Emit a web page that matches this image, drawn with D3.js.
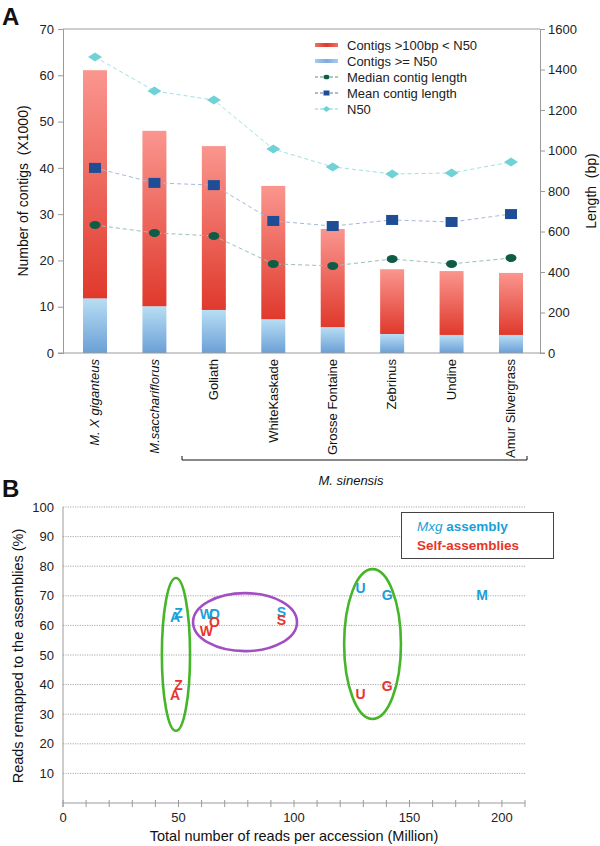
<!DOCTYPE html>
<html><head><meta charset="utf-8">
<script src="https://cdn.jsdelivr.net/npm/d3@7"></script>
<style>
body{margin:0;background:#fff;}
svg{display:block;font-family:"Liberation Sans",Arial,sans-serif;}
</style></head>
<body>
<script>
// ---------- Panel A data ----------
const categories = ["M. X giganteus","M.sacchariflorus","Goliath","WhiteKaskade","Grosse Fontaine","Zebrinus","Undine","Amur Silvergrass"];
const italicCategories = ["M. X giganteus","M.sacchariflorus"];
const contigsGeN50 = [11.8, 10.1, 9.3, 7.3, 5.6, 4.1, 3.9, 3.9];          // x1000
const contigsLtN50 = [49.3, 37.9, 35.4, 28.8, 21.2, 14.0, 13.8, 13.4];   // x1000
const medianLength = [632, 593, 578, 440, 430, 464, 440, 469];
const meanLength   = [914, 840, 829, 652, 627, 657, 647, 686];
const n50Length    = [1462, 1294, 1249, 1007, 919, 884, 889, 943];
const leftTicks  = [0,10,20,30,40,50,60,70];
const rightTicks = [0,200,400,600,800,1000,1200,1400,1600];
const legendA = ["Contigs >100bp < N50","Contigs >= N50","Median contig length","Mean contig length","N50"];

// ---------- Panel B data ----------
const accessions   = ["A","Z","W","O","S","U","G","M"];
const readsMillion = [48.5, 50.0, 62.1, 65.6, 94.6, 128.8, 140.3, 181.4];
const mxgRemapped  = [62.8, 64.2, 63.9, 63.9, 64.5, 72.6, 70.3, 70.3];
const selfRemapped = [36.5, 39.9, 58.1, 61.1, 61.8, 36.8, 39.5, null];
const bYTicks = [10,20,30,40,50,60,70,80,90,100];
const bXLabels = [0,50,100,150,200];
const bXMinor = d3.range(0,201,10);
// annotation ellipses (data units: cx reads, cy %, rx, ry)
const groupEllipses = [
  {cx:48.9, cy:50.2, rx:6.1, ry:25.8, color:"#45b52a"},
  {cx:78.8, cy:61.1, rx:22.5, ry:9.8, color:"#a24fc2"},
  {cx:134.0, cy:53.7, rx:12.3, ry:25.3, color:"#45b52a"}
];

const W = 600, H = 846;
const svg = d3.select("body").append("svg").attr("width",W).attr("height",H);
svg.append("rect").attr("width",W).attr("height",H).attr("fill","#fff");

const defs = svg.append("defs");
function vgrad(id, c0, c1){
  const g = defs.append("linearGradient").attr("id",id).attr("x1",0).attr("y1",0).attr("x2",0).attr("y2",1);
  g.append("stop").attr("offset","0%").attr("stop-color",c0);
  g.append("stop").attr("offset","100%").attr("stop-color",c1);
}
vgrad("redG","#fa968f","#e0392c");
vgrad("blueG","#b8def4","#6b9fd6");
function hgrad(id, c0, c1){
  const g = defs.append("linearGradient").attr("id",id).attr("x1",0).attr("y1",0).attr("x2",1).attr("y2",0);
  g.append("stop").attr("offset","0%").attr("stop-color",c0);
  g.append("stop").attr("offset","50%").attr("stop-color",c1);
  g.append("stop").attr("offset","100%").attr("stop-color",c0);
}
hgrad("redH","#f07068","#e0392c");
hgrad("blueH","#a9cdee","#7eaadc");

// ================= Panel A =================
const axisGray = "#9a9a9a";
const xA = d3.scalePoint().domain(categories).range([95,511]);
const yL = d3.scaleLinear().domain([0,70]).range([353,29]);
const yR = d3.scaleLinear().domain([0,1600]).range([353,29]);
const barW = 24;
const gA = svg.append("g");

// frame
gA.append("line").attr("x1",63).attr("x2",540).attr("y1",yL(70)).attr("y2",yL(70)).attr("stroke",axisGray);
// bars
categories.forEach((c,i)=>{
  const x = xA(c)-barW/2;
  gA.append("rect").attr("x",x).attr("width",barW)
    .attr("y",yL(contigsGeN50[i])).attr("height",yL(0)-yL(contigsGeN50[i])).attr("fill","url(#blueG)");
  const top = contigsGeN50[i]+contigsLtN50[i];
  gA.append("rect").attr("x",x).attr("width",barW)
    .attr("y",yL(top)).attr("height",yL(contigsGeN50[i])-yL(top)).attr("fill","url(#redG)");
});

// axes
const axL = gA.append("g").attr("transform","translate(63,0)")
  .call(d3.axisLeft(yL).tickValues(leftTicks).tickSize(5).tickPadding(4).tickFormat(d3.format("d")));
const axR = gA.append("g").attr("transform","translate(540,0)")
  .call(d3.axisRight(yR).tickValues(rightTicks).tickSize(5).tickPadding(3).tickFormat(d3.format("d")));
[axL,axR].forEach(a=>{
  a.select(".domain").attr("stroke",axisGray);
  a.selectAll(".tick line").attr("stroke",axisGray);
  a.selectAll(".tick text").attr("font-size",13).attr("fill","#222").attr("font-family","Liberation Sans, Arial, sans-serif");
});
gA.append("line").attr("x1",58).attr("x2",545).attr("y1",yL(0)).attr("y2",yL(0)).attr("stroke",axisGray);

// lines
function series(vals, lineColor){
  const line = d3.line().x((d,i)=>xA(categories[i])).y(d=>yR(d));
  gA.append("path").attr("d",line(vals)).attr("fill","none").attr("stroke",lineColor)
    .attr("stroke-width",1).attr("stroke-dasharray","4,3");
}
series(n50Length,"#9fe0e6");
series(meanLength,"#a6b8da");
series(medianLength,"#9bbfb6");
// markers
categories.forEach((c,i)=>{
  const x = xA(c);
  gA.append("path").attr("transform",`translate(${x},${yR(n50Length[i])})`)
    .attr("d","M-7,0L0,-4.5L7,0L0,4.5Z").attr("fill","#6fd2d6");
  gA.append("rect").attr("x",x-6).attr("y",yR(meanLength[i])-5).attr("width",12).attr("height",10).attr("fill","#1f4d95");
  gA.append("ellipse").attr("cx",x).attr("cy",yR(medianLength[i])).attr("rx",5.5).attr("ry",4).attr("fill","#0e5b46");
});

// x labels
categories.forEach(c=>{
  gA.append("text").attr("transform",`translate(${xA(c)},359) rotate(-90)`)
    .attr("text-anchor","end").attr("dy","0.33em").attr("font-size",13).attr("fill","#111")
    .attr("font-style", italicCategories.includes(c)?"italic":"normal").text(c);
});
// bracket
gA.append("path").attr("d","M182,456V460H527V456").attr("fill","none").attr("stroke","#111").attr("stroke-width",1);
gA.append("text").attr("x",351).attr("y",485).attr("text-anchor","middle").attr("font-size",13)
  .attr("font-style","italic").attr("fill","#111").text("M. sinensis");

// axis titles
gA.append("text").attr("transform","translate(28,191) rotate(-90)").attr("text-anchor","middle")
  .attr("font-size",14).attr("fill","#111").attr("xml:space","preserve").text("Number of contigs  (X1000)");
gA.append("text").attr("transform","translate(596,191) rotate(-90)").attr("text-anchor","middle")
  .attr("font-size",14).attr("fill","#111").attr("xml:space","preserve").text("Length  (bp)");
svg.append("text").attr("x",2).attr("y",25).attr("font-size",24).attr("font-weight","bold").attr("fill","#111").text("A");

// legend A
const lg = gA.append("g");
legendA.forEach((t,i)=>{
  const y = 45 + i*16;
  const sx0 = 315, sx1 = 338;
  if(i===0) lg.append("rect").attr("x",sx0).attr("y",y-2).attr("width",sx1-sx0).attr("height",4).attr("fill","url(#redH)");
  if(i===1) lg.append("rect").attr("x",sx0).attr("y",y-2).attr("width",sx1-sx0).attr("height",4).attr("fill","url(#blueH)");
  if(i>=2){
    const lc = ["#5f8f84","#5b74ad","#7fd6da"][i-2];
    lg.append("line").attr("x1",sx0).attr("x2",sx1).attr("y1",y).attr("y2",y).attr("stroke",lc).attr("stroke-dasharray","3,2");
    const mx = (sx0+sx1)/2;
    if(i===2) lg.append("ellipse").attr("cx",mx).attr("cy",y).attr("rx",3).attr("ry",2.3).attr("fill","#0e5b46");
    if(i===3) lg.append("rect").attr("x",mx-3).attr("y",y-2.5).attr("width",6).attr("height",5).attr("fill","#1f4d95");
    if(i===4) lg.append("path").attr("transform",`translate(${mx},${y})`).attr("d","M-4,0L0,-3L4,0L0,3Z").attr("fill","#6fd2d6");
  }
  lg.append("text").attr("x",347).attr("y",y).attr("dy","0.35em").attr("font-size",13).attr("fill","#222").text(t);
});

// ================= Panel B =================
const xB = d3.scaleLinear().domain([0,200]).range([63,525]);
const yB = d3.scaleLinear().domain([0,100]).range([803,507]);
const gB = svg.append("g");
svg.append("text").attr("x",2).attr("y",497).attr("font-size",24).attr("font-weight","bold").attr("fill","#111").text("B");

// gridlines
bYTicks.forEach(v=>{
  gB.append("line").attr("x1",xB(0)).attr("x2",xB(200)).attr("y1",yB(v)).attr("y2",yB(v))
    .attr("stroke","#a8a8a8").attr("stroke-width",1).attr("stroke-dasharray","1.2,1.2");
  gB.append("text").attr("x",54).attr("y",yB(v)).attr("dy","0.35em").attr("text-anchor","end")
    .attr("font-size",13).attr("fill","#222").text(v);
});
// axes lines
gB.append("line").attr("x1",xB(0)).attr("x2",xB(0)).attr("y1",yB(100)).attr("y2",yB(0)+4).attr("stroke",axisGray);
gB.append("line").attr("x1",xB(0)).attr("x2",xB(200)).attr("y1",yB(0)).attr("y2",yB(0)).attr("stroke",axisGray);
bXMinor.forEach(v=>{
  gB.append("line").attr("x1",xB(v)).attr("x2",xB(v)).attr("y1",yB(0)-3).attr("y2",yB(0)+4).attr("stroke",axisGray);
});
bXLabels.forEach(v=>{
  // last label sits one minor tick in from the axis end, as in the original
  const pos = v===200 ? xB(190) : xB(v);
  gB.append("text").attr("x",pos).attr("y",822).attr("text-anchor","middle").attr("font-size",13).attr("fill","#222").text(v);
});
gB.append("text").attr("x",294).attr("y",841).attr("text-anchor","middle").attr("font-size",14.5).attr("fill","#111")
  .text("Total number of reads per accession (Million)");
gB.append("text").attr("transform","translate(23,656) rotate(-90)").attr("text-anchor","middle")
  .attr("font-size",14.5).attr("fill","#111").text("Reads remapped to the assemblies (%)");

// ellipses
groupEllipses.forEach(e=>{
  gB.append("ellipse").attr("cx",xB(e.cx)).attr("cy",yB(e.cy))
    .attr("rx",xB(e.rx)-xB(0)).attr("ry",yB(0)-yB(e.ry))
    .attr("fill","none").attr("stroke",e.color).attr("stroke-width",2.6);
});

// letters
const blue = "#1aa0d8", red = "#e8352b";
accessions.forEach((a,i)=>{
  gB.append("text").attr("x",xB(readsMillion[i])).attr("y",yB(mxgRemapped[i])).attr("dy","0.36em")
    .attr("text-anchor","middle").attr("font-size",14).attr("font-weight","bold").attr("fill",blue).text(a);
});
accessions.forEach((a,i)=>{
  if(selfRemapped[i]==null) return;
  gB.append("text").attr("x",xB(readsMillion[i])).attr("y",yB(selfRemapped[i])).attr("dy","0.36em")
    .attr("text-anchor","middle").attr("font-size",14).attr("font-weight","bold").attr("fill",red).text(a);
});

// legend B
gB.append("rect").attr("x",401.5).attr("y",512.5).attr("width",152).attr("height",46)
  .attr("fill","#fff").attr("stroke","#444").attr("stroke-width",1);
const t1 = gB.append("text").attr("x",417).attr("y",531).attr("font-size",13.5).attr("fill",blue);
t1.append("tspan").attr("font-style","italic").text("Mxg ");
t1.append("tspan").attr("font-weight","bold").text("assembly");
gB.append("text").attr("x",417).attr("y",550).attr("font-size",13.5).attr("font-weight","bold").attr("fill",red).text("Self-assemblies");
</script>
</body></html>
